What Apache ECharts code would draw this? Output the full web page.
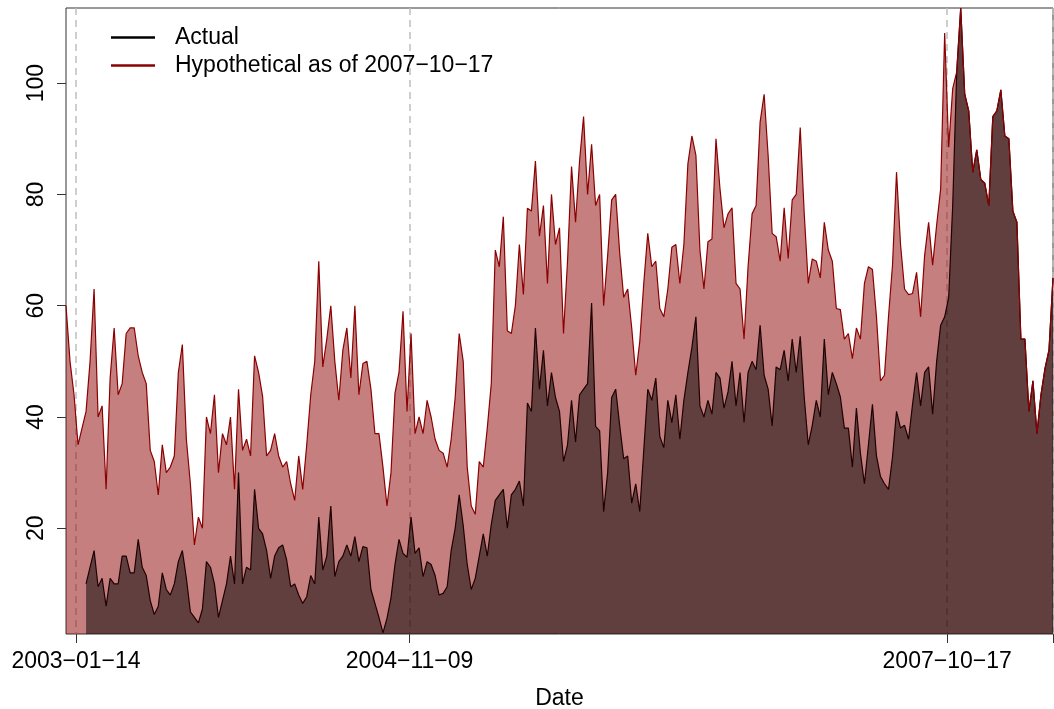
<!DOCTYPE html>
<html>
<head>
<meta charset="utf-8">
<script src="https://cdn.jsdelivr.net/npm/echarts@6/dist/echarts.min.js"></script>
<style>
  html, body { margin: 0; padding: 0; background: #fff; }
  #main { width: 1054px; height: 709px; }
</style>
</head>
<body>
<div id="main"></div>
<script>
// one reading every 8 days starting from startDate
var startDate = '2002-12-25';
var stepDays = 8;

var hypName = 'Hypothetical as of 2007\u221210\u221217';

var hypothetical = [
  60, 50, 44, 35, 38, 41, 50, 63, 40, 42, 27, 47, 56, 44, 46, 55, 56, 56, 51, 48,
  46, 34, 32, 26, 35, 30, 31, 33, 48, 53, 36, 28, 17, 22, 20, 40, 37, 44, 30, 37,
  35, 40, 27, 45, 34, 36, 33, 51, 48, 43.7, 33, 34, 37, 33, 31, 32, 28, 25, 33, 27,
  35, 44, 50, 68, 49, 54, 60, 50, 43, 52, 56, 47, 60, 44, 49.6, 50, 45, 37, 37, 31,
  24, 30, 44.3, 48, 59, 41, 55, 37, 40, 37, 43, 40, 36, 34, 33.5, 31, 36, 43.5, 55, 50,
  31, 24, 22.5, 32, 31, 38, 46, 70, 67, 76, 55.5, 55, 60, 71, 62, 77.5, 77, 86, 72.5, 78,
  64, 80, 71, 74, 55, 68, 85, 75, 86, 94, 80, 89, 78, 80, 60, 69, 79, 80, 69.5, 61.5,
  63, 56, 47.5, 53.5, 64, 73, 67, 68, 59.5, 58, 63, 70.5, 71, 64, 71, 85.5, 90.5, 87, 70, 63,
  71.5, 72, 90, 81, 74, 76.5, 77.6, 64, 63, 54, 67, 76.5, 78, 93, 98, 87, 73, 72.4, 68, 77.6,
  68.5, 79, 80, 92, 76.5, 64, 68.4, 68, 65, 75, 70, 68, 59.5, 59.3, 54, 55, 50.5, 56, 54, 64,
  67, 66.5, 58, 46.5, 47.5, 58, 67.3, 84, 71, 63, 62, 62.2, 66, 58, 69, 75, 67.3, 74.5, 81, 109,
  88.5, 99, 102, 113.5, 98, 95, 84, 88, 82.7, 82, 78, 94, 95, 98.8, 90.5, 90, 77, 75, 54, 54,
  41, 46.5, 37, 44, 48.7, 52, 65
];

// actual series starts a few readings later
var actual = [
  null, null, null, null, null,
  10, 13, 16, 9.5, 11, 6, 11, 10, 10, 15, 15, 12, 12, 18, 13,
  11.5, 7, 4.5, 6, 12, 9, 8, 10, 14, 16, 11, 5, 4, 3, 5.5, 14, 13, 10, 4, 7,
  10, 15, 10, 30, 10, 13, 12.5, 27, 20, 19, 16, 11, 15, 16.5, 17, 14.3, 9.5, 10, 8, 6.5,
  7.7, 11.5, 10, 22, 12.5, 15, 24, 11.3, 14, 15, 17, 15, 18.5, 14, 16.7, 16.5, 9, 6.5, 4, 1.2,
  3.8, 7.5, 13.5, 18, 15.5, 14.8, 22, 15.5, 16.5, 11.3, 14, 13.5, 11.5, 8, 8.3, 9.5, 16, 20, 26, 20.5,
  13.5, 9, 11, 15, 19, 15, 20.7, 25, 26, 27, 20, 26, 27, 28.5, 24, 42.5, 41, 56, 45, 52,
  42, 48, 43.5, 41, 32, 35, 43, 35.5, 44, 45, 46, 60.5, 38.3, 37.5, 23, 30, 43.5, 45, 38.5, 32.5,
  33, 24.5, 28, 23, 34, 45, 43, 47, 36.5, 34.5, 43, 39, 44, 36, 43, 48, 52.5, 58, 42, 40,
  43, 40.5, 48, 47, 41.6, 44.5, 50, 42, 48, 39, 48, 50, 48.5, 56.5, 47.5, 45, 38.4, 49, 48.5, 52,
  46.5, 54, 48, 54.5, 43.5, 35, 38.5, 43, 40, 54, 44, 48, 46, 43.6, 38, 38, 31, 41.6, 33.5, 28,
  35, 42.3, 33, 29.3, 28, 27, 32.8, 41, 38, 38.5, 36, 42.3, 48, 42, 48, 49, 40.5, 50, 56.5, 58,
  61.5, 78, 102, 113.5, 98, 95, 84, 88, 82.7, 82, 78, 94, 95, 98.8, 90.5, 90, 77, 75, 54, 54,
  41, 46.5, 37, 44, 48.7, 52, 65
];

var tickDates = ['2003-01-14', '2004-11-09', '2007-10-17', '2008-05-15'];
var tickLabels = ['2003\u221201\u221214', '2004\u221211\u221209', '2007\u221210\u221217', ''];
var yTicks = [20, 40, 60, 80, 100];
var yMin = 1;
var yMax = 113.5;

var font = 'Liberation Sans, Arial, sans-serif';

function toTime(s) {
  var p = s.split('-');
  return Date.UTC(+p[0], +p[1] - 1, +p[2]);
}

var t0 = toTime(startDate);
var hypData = [];
var actData = [];
for (var i = 0; i < hypothetical.length; i++) {
  var t = t0 + i * stepDays * 86400000;
  hypData.push([t, hypothetical[i]]);
  if (actual[i] != null) actData.push([t, actual[i]]);
}

var tickTimes = tickDates.map(toTime);

var myChart = echarts.init(document.getElementById('main'));
myChart.setOption({
  animation: false,
  backgroundColor: '#fff',
  grid: {
    left: 66, right: 1, top: 8, bottom: 75,
    outerBoundsMode: 'none',
    containLabel: false,
    show: true, borderColor: '#333', borderWidth: 1
  },
  legend: {
    data: ['Actual', hypName],
    orient: 'vertical',
    left: 111, top: 24.5,
    padding: 0,
    itemGap: 2,
    icon: 'rect',
    itemWidth: 44,
    itemHeight: 2.5,
    selectedMode: false,
    textStyle: {
      fontSize: 23, fontFamily: font, color: '#000',
      lineHeight: 26, padding: [0, 0, 0, 15]
    }
  },
  xAxis: {
    type: 'value',
    min: hypData[0][0],
    max: hypData[hypData.length - 1][0],
    name: 'Date',
    nameLocation: 'middle',
    nameGap: 53,
    nameTextStyle: { fontSize: 23, fontFamily: font, color: '#000' },
    axisLine: { show: false },
    axisTick: {
      customValues: tickTimes,
      length: 9,
      lineStyle: { color: '#333', width: 1 }
    },
    axisLabel: {
      customValues: tickTimes,
      margin: 16,
      fontSize: 23, fontFamily: font, color: '#000',
      formatter: function (v) {
        var k = tickTimes.indexOf(v);
        return k >= 0 ? tickLabels[k] : '';
      }
    },
    splitLine: {
      show: true,
      lineStyle: { color: '#bebebe', type: [7, 5], width: 1.5 }
    }
  },
  yAxis: {
    type: 'value',
    min: yMin,
    max: yMax,
    axisLine: { show: false },
    splitLine: { show: false },
    axisTick: {
      customValues: yTicks,
      length: 9,
      lineStyle: { color: '#333', width: 1 }
    },
    axisLabel: {
      customValues: yTicks,
      rotate: 90,
      margin: 18,
      fontSize: 23, fontFamily: font, color: '#000'
    }
  },
  series: [
    {
      name: hypName,
      type: 'line',
      data: hypData,
      color: '#8b0000',
      symbol: 'none',
      silent: true,
      z: 2,
      lineStyle: { width: 0 },
      areaStyle: { color: 'rgba(139,0,0,0.5)', origin: 'start', opacity: 1 }
    },
    {
      name: 'Actual',
      type: 'line',
      data: actData,
      color: '#000',
      symbol: 'none',
      silent: true,
      z: 3,
      lineStyle: { color: '#1e0000', width: 1.2 },
      areaStyle: { color: 'rgba(0,0,0,0.5)', origin: 'start', opacity: 1 }
    },
    {
      // hypothetical outline drawn on top so it stays dark red where both coincide
      name: 'hypLine',
      type: 'line',
      data: hypData,
      symbol: 'none',
      silent: true,
      z: 4,
      lineStyle: { color: '#8b0000', width: 1.2 }
    }
  ]
});
</script>
</body>
</html>
